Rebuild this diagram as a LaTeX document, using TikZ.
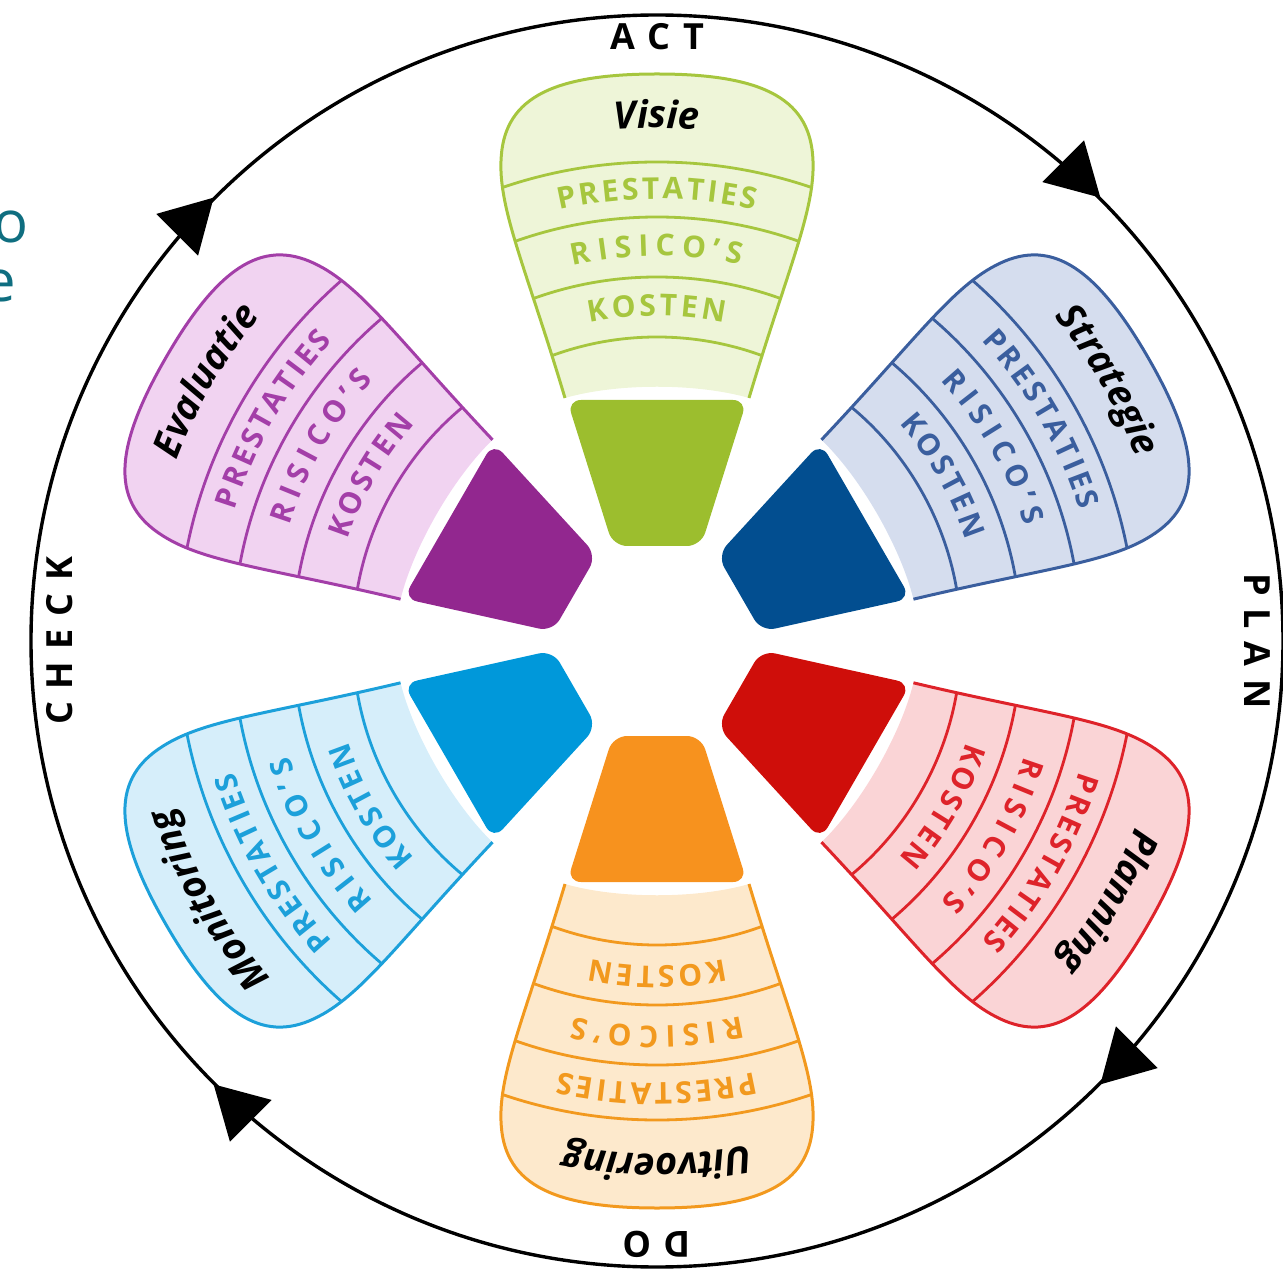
\documentclass[tikz,border=0pt]{standalone}
\usepackage{fontspec}
\setmainfont{Open Sans}
\usetikzlibrary{decorations.text}
\definecolor{grnD}{RGB}{156,190,46}\definecolor{grnL}{RGB}{238,245,216}\definecolor{grnS}{RGB}{166,198,62}
\definecolor{bluD}{RGB}{2,78,144}\definecolor{bluL}{RGB}{213,221,238}\definecolor{bluS}{RGB}{58,94,158}
\definecolor{redD}{RGB}{207,14,10}\definecolor{redL}{RGB}{250,212,214}\definecolor{redS}{RGB}{222,35,42}
\definecolor{orgD}{RGB}{247,146,30}\definecolor{orgL}{RGB}{253,233,204}\definecolor{orgS}{RGB}{242,153,30}
\definecolor{cyaD}{RGB}{0,152,218}\definecolor{cyaL}{RGB}{214,238,250}\definecolor{cyaS}{RGB}{28,160,218}
\definecolor{purD}{RGB}{146,39,143}\definecolor{purL}{RGB}{241,211,241}\definecolor{purS}{RGB}{163,62,168}
\definecolor{tealfrag}{RGB}{15,110,128}
\newcommand{\titlefont}{\bfseries\itshape\fontsize{19}{22}\selectfont}
\newcommand{\bandfont}{\bfseries\fontsize{15}{17}\selectfont}
\def\petalpath{(-92,243)..controls(-130,370)and(-158,430)..(-156,480)..controls(-154,540)and(-110,567)..(0,567)..controls(110,567)and(154,540)..(156,480)..controls(158,430)and(130,370)..(92,243)}
% one petal: rotation, dark, light, line colour, title
\newcommand{\petal}[5]{%
	\begin{scope}[rotate=#1]
		\fill[#2,rounded corners=7pt](-44,95)--(-90,241)--(90,241)--(44,95)--cycle;
		\fill[#3]\petalpath..controls(40,258)and(-40,258)..(-92,243)--cycle;
		\begin{scope}
			\clip\petalpath..controls(40,258)and(-40,258)..(-92,243)--cycle;
			\foreach \r in {479,424,364,304}\draw[#4,line width=1.4pt](0,0)circle(\r);
		\end{scope}
		\draw[#4,line width=1.5pt]\petalpath;
		\path[decorate,decoration={text along path,text={|\titlefont|#5},text align=center}](112:513)arc[start angle=112,end angle=68,radius=513];
		\path[decorate,decoration={text along path,text color=#4,text={|\bandfont|PRESTATIES},text align={fit to path}}](102.8:442)arc[start angle=102.8,end angle=77.2,radius=442];
		\path[decorate,decoration={text along path,text color=#4,text={|\bandfont|RISICO’S},text align={fit to path}}](102.6:385)arc[start angle=102.6,end angle=77.4,radius=385];
		\path[decorate,decoration={text along path,text color=#4,text={|\bandfont|KOSTEN}, text align={fit to path}}](101.9:325)arc[start angle=101.9,end angle=78.1,radius=325];
	\end{scope}}
\begin{document}
\begin{tikzpicture}[x=0.5pt,y=0.5pt,lbl/.style={font=\bfseries\fontsize{18}{20}\selectfont,inner sep=0pt}]
	\useasboundingbox(-657,-632)rectangle(626,641);
	% cycle
	\draw[line width=1.7pt](0,0)circle(626);
	\foreach \a in {45,135,225,315}\fill[rotate=\a](627,0)--(597,52)--(656,52)--cycle;
	\node[lbl](act)at(90:604){A\hspace{.35em}C\hspace{.35em}T};
	\node[lbl,rotate=-90](plan)at(0:600){P\hspace{.35em}L\hspace{.35em}A\hspace{.35em}N};
	\node[lbl,rotate=180](do)at(-90:603){D\hspace{.35em}O};
	\node[lbl,rotate=90](check)at(180:597){C\hspace{.35em}H\hspace{.35em}E\hspace{.35em}C\hspace{.35em}K};
	% petals
	\petal{0}{grnD}{grnL}{grnS}{Visie}
	\petal{-60}{bluD}{bluL}{bluS}{Strategie}
	\petal{-120}{redD}{redL}{redS}{Planning}
	\petal{180}{orgD}{orgL}{orgS}{Uitvoering}
	\petal{120}{cyaD}{cyaL}{cyaS}{Monitoring}
	\petal{60}{purD}{purL}{purS}{Evaluatie}
	% cut-off text at the left edge
	\node[anchor=base east,inner sep=0pt,text=tealfrag,font=\fontsize{29}{34}\selectfont](fragO)at(-628,398){o};
	\node[anchor=base east,inner sep=0pt,text=tealfrag,font=\fontsize{29}{34}\selectfont](fragE)at(-641,339){e};
\end{tikzpicture}
\end{document}
